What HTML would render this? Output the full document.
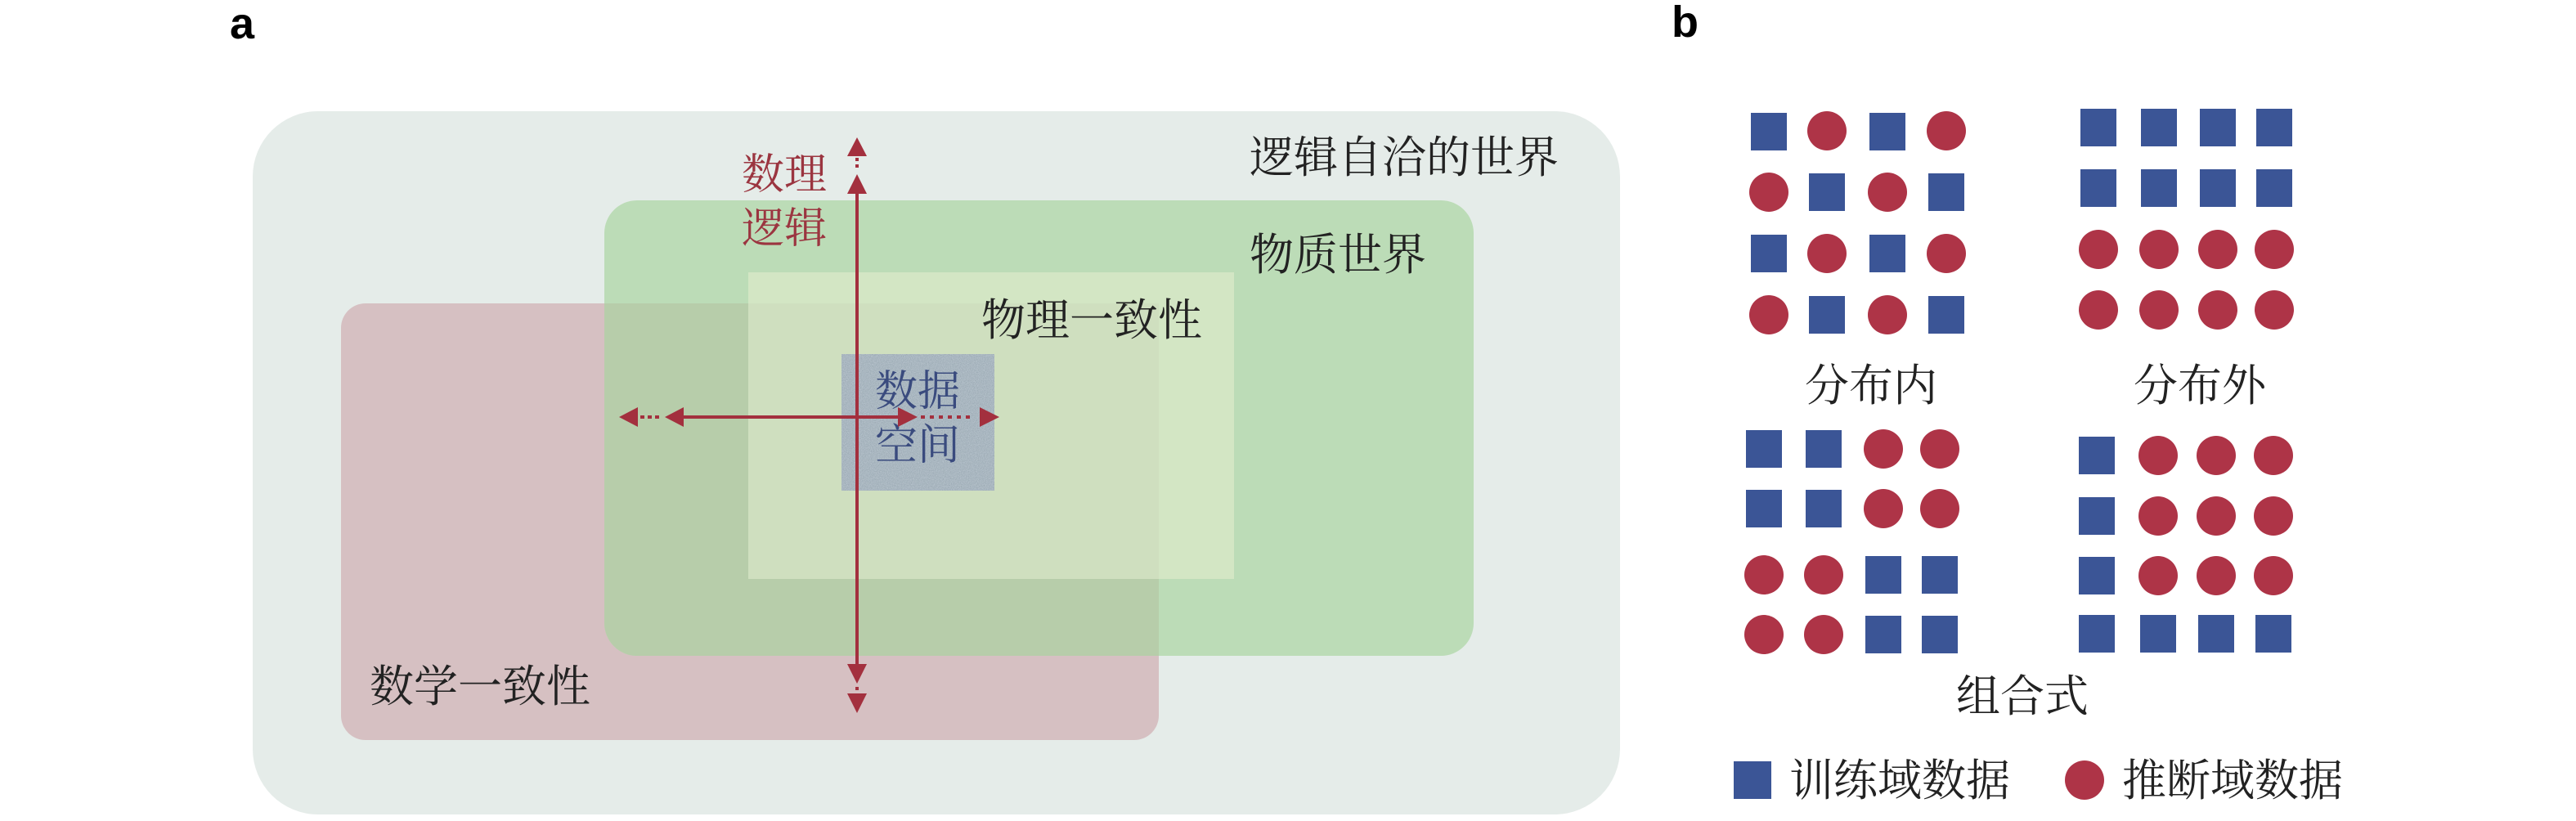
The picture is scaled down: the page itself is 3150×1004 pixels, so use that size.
<!DOCTYPE html>
<html><head><meta charset="utf-8"><style>
html,body{margin:0;padding:0;background:#fff}
svg{display:block}
.s{font-family:"Liberation Serif","Noto Serif CJK SC",serif}
</style></head><body>
<svg width="3150" height="1004" viewBox="0 0 3150 1004" xmlns="http://www.w3.org/2000/svg">
<defs>
<filter id="noise" x="0" y="0" width="100%" height="100%">
<feTurbulence type="fractalNoise" baseFrequency="0.9" numOctaves="2" result="t"/>
<feColorMatrix in="t" type="matrix" values="0 0 0 0 0.55  0 0 0 0 0.62  0 0 0 0 0.68  0 0 0 1.4 -0.2"/>
</filter>
</defs>
<text x="281" y="47" font-family="Liberation Sans" font-weight="bold" font-size="54">a</text>
<text x="2044" y="45" font-family="Liberation Sans" font-weight="bold" font-size="54">b</text>

<rect x="309" y="136" width="1672" height="860" rx="80" fill="#e5ece9"/>
<rect x="417" y="371" width="1000" height="534" rx="30" fill="#d6c0c2"/>
<rect x="739" y="245" width="1063" height="557" rx="40" fill="#bcdcb7"/>
<path d="M739 371 H1417 V802 H779 A40 40 0 0 1 739 762 Z" fill="#b7cdaa"/>
<rect x="915" y="333" width="594" height="375" fill="#d3e6c4"/>
<rect x="915" y="371" width="502" height="337" fill="#cfdfbf"/>
<rect x="1029" y="433" width="187" height="167" fill="#98a7b1"/>
<rect x="1029" y="433" width="187" height="167" filter="url(#noise)" opacity="0.8"/>

<g class="s" font-size="54" fill="#222">
<text x="1528" y="211">逻辑自洽的世界</text>
<text x="1528" y="330">物质世界</text>
<text x="1200" y="410">物理一致性</text>
<text x="452" y="858">数学一致性</text>
</g>
<g class="s" font-size="52" fill="#9b3540">
<text x="907" y="231">数理</text>
<text x="907" y="297">逻辑</text>
</g>
<g class="s" font-size="52" fill="#3a4b7e">
<text x="1070" y="496">数据</text>
<text x="1070" y="562">空间</text>
</g>

<g fill="#a3303e" stroke="none">
<rect x="1046" y="236" width="4" height="580"/>
<polygon points="1048,168 1036,191 1060,191"/>
<polygon points="1048,213 1036,237 1060,237"/>
<rect x="1046" y="193" width="4" height="4"/><rect x="1046" y="201" width="4" height="4"/>
<polygon points="1048,836 1036,812 1060,812"/>
<polygon points="1048,872 1036,848 1060,848"/>
<rect x="1046" y="840" width="4" height="4"/>
<rect x="834" y="508" width="266" height="4"/>
<polygon points="757,510 780,498 780,522"/>
<polygon points="813,510 836,498 836,522"/>
<rect x="783" y="508" width="5" height="4"/><rect x="792" y="508" width="5" height="4"/><rect x="801" y="508" width="5" height="4"/>
<polygon points="1122,510 1098,498 1098,522"/>
<polygon points="1222,510 1198,498 1198,522"/>
<rect x="1126" y="508" width="5" height="4"/><rect x="1137" y="508" width="5" height="4"/><rect x="1148" y="508" width="5" height="4"/><rect x="1159" y="508" width="5" height="4"/><rect x="1170" y="508" width="5" height="4"/><rect x="1181" y="508" width="5" height="4"/>
</g>

<g id="b">
<!-- grid1 -->
<g fill="#3b5596">
<rect x="2141" y="138" width="44" height="46"/><rect x="2286" y="138" width="44" height="46"/>
<rect x="2212" y="212" width="44" height="46"/><rect x="2358" y="212" width="44" height="46"/>
<rect x="2141" y="287" width="44" height="46"/><rect x="2286" y="287" width="44" height="46"/>
<rect x="2212" y="362" width="44" height="46"/><rect x="2358" y="362" width="44" height="46"/>
</g>
<g fill="#ae3447">
<ellipse cx="2234" cy="160" rx="24" ry="24"/><ellipse cx="2380" cy="160" rx="24" ry="24"/>
<ellipse cx="2163" cy="235" rx="24" ry="24"/><ellipse cx="2308" cy="235" rx="24" ry="24"/>
<ellipse cx="2234" cy="310" rx="24" ry="24"/><ellipse cx="2380" cy="310" rx="24" ry="24"/>
<ellipse cx="2163" cy="385" rx="24" ry="24"/><ellipse cx="2308" cy="385" rx="24" ry="24"/>
</g>
<!-- grid2 -->
<g fill="#3b5596">
<rect x="2544" y="133" width="44" height="46"/><rect x="2618" y="133" width="44" height="46"/><rect x="2690" y="133" width="44" height="46"/><rect x="2759" y="133" width="44" height="46"/>
<rect x="2544" y="207" width="44" height="46"/><rect x="2618" y="207" width="44" height="46"/><rect x="2690" y="207" width="44" height="46"/><rect x="2759" y="207" width="44" height="46"/>
</g>
<g fill="#ae3447">
<circle cx="2566" cy="305" r="24"/><circle cx="2640" cy="305" r="24"/><circle cx="2712" cy="305" r="24"/><circle cx="2781" cy="305" r="24"/>
<circle cx="2566" cy="379" r="24"/><circle cx="2640" cy="379" r="24"/><circle cx="2712" cy="379" r="24"/><circle cx="2781" cy="379" r="24"/>
</g>
<!-- grid3 -->
<g fill="#3b5596">
<rect x="2135" y="526" width="44" height="46"/><rect x="2208" y="526" width="44" height="46"/>
<rect x="2135" y="599" width="44" height="46"/><rect x="2208" y="599" width="44" height="46"/>
<rect x="2281" y="680" width="44" height="46"/><rect x="2350" y="680" width="44" height="46"/>
<rect x="2281" y="753" width="44" height="46"/><rect x="2350" y="753" width="44" height="46"/>
</g>
<g fill="#ae3447">
<circle cx="2303" cy="549" r="24"/><circle cx="2372" cy="549" r="24"/>
<circle cx="2303" cy="622" r="24"/><circle cx="2372" cy="622" r="24"/>
<circle cx="2157" cy="703" r="24"/><circle cx="2230" cy="703" r="24"/>
<circle cx="2157" cy="776" r="24"/><circle cx="2230" cy="776" r="24"/>
</g>
<!-- grid4 -->
<g fill="#3b5596">
<rect x="2542" y="534" width="44" height="46"/>
<rect x="2542" y="608" width="44" height="46"/>
<rect x="2542" y="681" width="44" height="46"/>
<rect x="2542" y="752" width="44" height="46"/><rect x="2617" y="752" width="44" height="46"/><rect x="2688" y="752" width="44" height="46"/><rect x="2758" y="752" width="44" height="46"/>
</g>
<g fill="#ae3447">
<circle cx="2639" cy="557" r="24"/><circle cx="2710" cy="557" r="24"/><circle cx="2780" cy="557" r="24"/>
<circle cx="2639" cy="631" r="24"/><circle cx="2710" cy="631" r="24"/><circle cx="2780" cy="631" r="24"/>
<circle cx="2639" cy="704" r="24"/><circle cx="2710" cy="704" r="24"/><circle cx="2780" cy="704" r="24"/>
</g>
<g class="s" font-size="54" fill="#222" text-anchor="middle">
<text x="2288" y="490">分布内</text>
<text x="2690" y="490">分布外</text>
<text x="2473" y="870">组合式</text>
</g>
<rect x="2120" y="931" width="46" height="46" fill="#3b5596"/>
<circle cx="2549" cy="954" r="24" fill="#ae3447"/>
<g class="s" font-size="54" fill="#222">
<text x="2188" y="973">训练域数据</text>
<text x="2595" y="973">推断域数据</text>
</g>
</g>
</svg>
</body></html>
